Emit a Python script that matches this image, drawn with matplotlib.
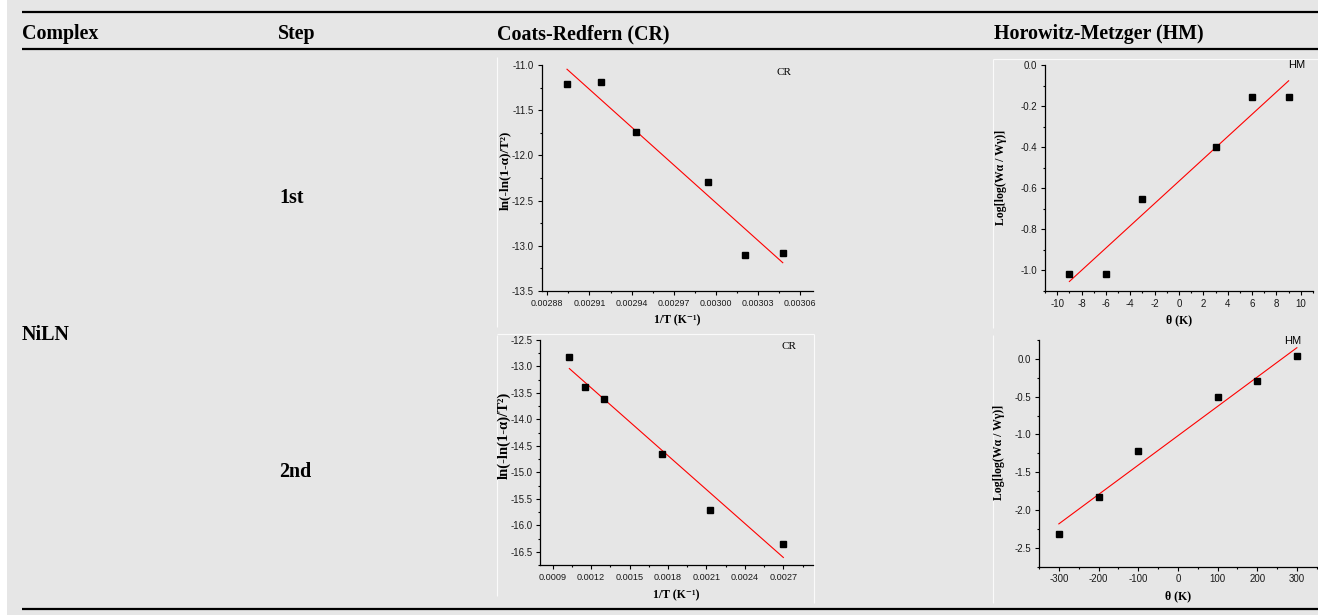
import numpy as np
import matplotlib
matplotlib.use("Agg")
import matplotlib.pyplot as plt
from matplotlib.lines import Line2D
from matplotlib.ticker import MultipleLocator, FormatStrFormatter

# ---------------- data ----------------
header_labels = ["Complex", "Step", "Coats-Redfern (CR)", "Horowitz-Metzger (HM)"]
complex_name = "NiLN"
step_names = ["1st", "2nd"]

cr1_x = [0.002894, 0.0029185, 0.0029434, 0.0029945, 0.0030206, 0.0030475]
cr1_y = [-11.214, -11.19, -11.741, -12.29, -13.10, -13.083]

hm1_x = [-9, -6, -3, 3, 6, 9]
hm1_y = [-1.015, -1.015, -0.654, -0.40, -0.154, -0.154]

cr2_x = [0.00103, 0.001152, 0.001301, 0.001756, 0.002128, 0.0027]
cr2_y = [-12.815, -13.38, -13.615, -14.66, -15.718, -16.354]

hm2_x = [-300, -200, -100, 100, 200, 300]
hm2_y = [-2.315, -1.834, -1.213, -0.498, -0.291, 0.044]

# ---------------- figure ----------------
W, H = 1318, 615
BG = "#e6e6e6"
plt.rcParams["axes.unicode_minus"] = False
fig = plt.figure(figsize=(W / 100, H / 100), dpi=100, facecolor=BG)

SERIF = ["Liberation Serif", "DejaVu Serif"]
SANS = ["Liberation Sans", "DejaVu Sans"]


def fx(x):
    return x / W


def fy(y):
    return 1 - y / H


def hline(y, x0, x1, lw, color, z=2):
    fig.add_artist(Line2D([fx(x0), fx(x1)], [fy(y), fy(y)], color=color, lw=lw,
                          transform=fig.transFigure, solid_capstyle="butt",
                          zorder=z))


def vline(x, y0, y1, lw, color, z=2):
    fig.add_artist(Line2D([fx(x), fx(x)], [fy(y0), fy(y1)], color=color, lw=lw,
                          transform=fig.transFigure, solid_capstyle="butt",
                          zorder=z))


# white strip at the far left
fig.add_artist(plt.Rectangle((0, 0), fx(7), 1, transform=fig.transFigure,
                             color="white", lw=0, zorder=-1))

# table rules
hline(12, 22, W, 1.6, "black")
hline(49, 22, W, 1.6, "black")
hline(609, 22, W, 1.6, "black")

# faint white edges of the embedded images (drawn beneath the axes)
WH = "#fafafa"
vline(497, 57, 327, 0.8, WH, -1)
hline(334, 497, 814, 0.8, WH, -1)
vline(814, 334, 603, 0.8, WH, -1)
vline(497, 335, 596, 0.8, WH, -1)
hline(59, 993, W, 0.8, WH, -1)
vline(993, 59, 328, 0.8, WH, -1)
vline(993, 335, 603, 0.8, WH, -1)

# header / body texts
tkw = dict(fontfamily=SERIF, fontweight="bold", fontsize=14.4, va="baseline",
           ha="left", color="black")
for lab, x in zip(header_labels, [22, 278, 497, 994]):
    fig.text(fx(x), fy(39), lab, **tkw)
fig.text(fx(22), fy(340), complex_name, **tkw)
fig.text(fx(279), fy(203), step_names[0], **tkw)
fig.text(fx(279), fy(477), step_names[1], **tkw)


def make_ax(l, t, r, b):
    ax = fig.add_axes([fx(l), fy(b), (r - l) / W, (b - t) / H])
    ax.set_facecolor("none")
    for s in ["top", "right"]:
        ax.spines[s].set_visible(False)
    for s in ["left", "bottom"]:
        ax.spines[s].set_linewidth(0.9)
    ax.tick_params(which="major", direction="out", length=3, width=0.8, pad=2.5)
    ax.tick_params(which="minor", direction="out", length=1.6, width=0.8)
    return ax


def draw(ax, xs, ys, xlim, ylim, xmaj, xmin, ymaj, ymin, xfmt, yfmt,
         xlab, ylab, tag, tagfam, tagpos, xlcoord, ylcoord, ylsize, xtsize):
    xs = np.asarray(xs)
    ys = np.asarray(ys)
    k, c = np.polyfit(xs, ys, 1)
    xx = np.array([xs.min(), xs.max()])
    ax.plot(xx, k * xx + c, color="red", lw=0.8, zorder=2)
    ax.plot(xs, ys, ls="none", marker="s", ms=4.8, color="black", zorder=3)
    ax.set_xlim(*xlim)
    ax.set_ylim(*ylim)
    ax.xaxis.set_major_locator(MultipleLocator(xmaj))
    ax.xaxis.set_minor_locator(MultipleLocator(xmin))
    ax.yaxis.set_major_locator(MultipleLocator(ymaj))
    ax.yaxis.set_minor_locator(MultipleLocator(ymin))
    ax.xaxis.set_major_formatter(FormatStrFormatter(xfmt))
    ax.yaxis.set_major_formatter(FormatStrFormatter(yfmt))
    for t in ax.get_xticklabels():
        t.set_fontfamily(SANS)
        t.set_fontsize(xtsize)
        t.set_color("#1a1a1a")
    for t in ax.get_yticklabels():
        t.set_fontfamily(SANS)
        t.set_fontsize(7.0)
        t.set_color("#1a1a1a")
    ax.set_xlabel(xlab, fontfamily=SERIF, fontweight="bold", fontsize=8.5)
    ax.set_ylabel(ylab, fontfamily=SERIF, fontweight="bold", fontsize=ylsize)
    ax.xaxis.set_label_coords(*xlcoord)
    ax.yaxis.set_label_coords(*ylcoord)
    ax.text(tagpos[0], tagpos[1], tag, transform=ax.transAxes, ha="center",
            va="center", fontfamily=tagfam, fontsize=8, color="black")


cr_ylab = "ln(-ln(1-α)/T²)"
cr_xlab = "1/T (K⁻¹)"
hm_ylab = "Log[log(Wα / Wγ)]"
hm_xlab = "θ (K)"

# top CR
ax1 = make_ax(541.7, 65, 813, 291)
draw(ax1, cr1_x, cr1_y, (0.002876, 0.003069), (-13.5, -11.0),
     0.00003, 0.000015, 0.5, 0.25, "%.5f", "%.1f",
     cr_xlab, cr_ylab, "CR", SERIF, (0.893, 0.969),
     (0.5, -0.105), (-0.113, 0.535), 9.5, 6.4)

# top HM
ax2 = make_ax(1045, 65, 1313, 291)
draw(ax2, hm1_x, hm1_y, (-11, 11), (-1.1, 0.0),
     2, 1, 0.2, 0.1, "%d", "%.1f",
     hm_xlab, hm_ylab, "HM", SANS, (0.94, 1.0),
     (0.5, -0.105), (-0.143, 0.504), 8.5, 7.0)

# bottom CR
ax3 = make_ax(540, 340, 812.7, 565)
draw(ax3, cr2_x, cr2_y, (0.000801, 0.002929), (-16.75, -12.5),
     0.0003, 0.00015, 0.5, 0.25, "%.4f", "%.1f",
     cr_xlab, cr_ylab, "CR", SERIF, (0.913, 0.969),
     (0.5, -0.11), (-0.108, 0.578), 10.5, 6.6)

# bottom HM
ax4 = make_ax(1039, 340, 1316.7, 566.7)
draw(ax4, hm2_x, hm2_y, (-350, 350), (-2.75, 0.25),
     100, 50, 0.5, 0.25, "%d", "%.1f",
     hm_xlab, hm_ylab, "HM", SANS, (0.915, 0.996),
     (0.5, -0.105), (-0.122, 0.506), 8.5, 7.0)

fig.savefig("out.png", dpi=100, facecolor=BG)
